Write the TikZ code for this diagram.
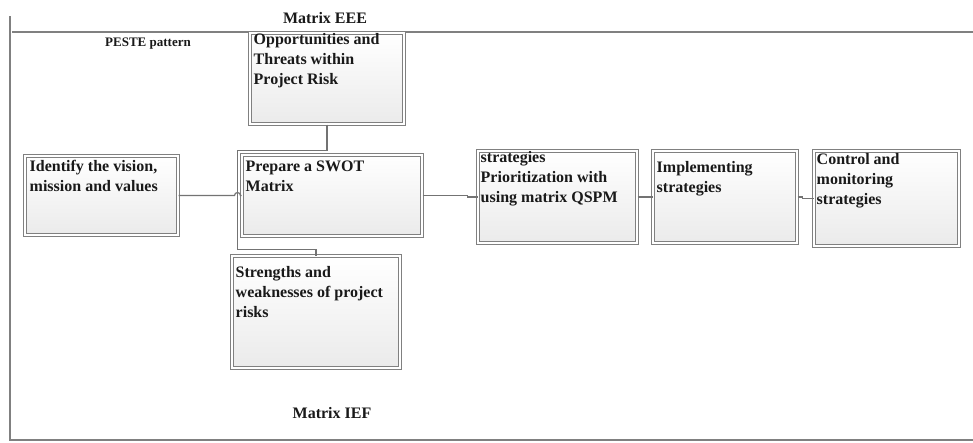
\documentclass[tikz,border=0pt]{standalone}
\usepackage{fontspec}
\setmainfont{Liberation Serif}
\usetikzlibrary{positioning,calc}

\tikzset{
  framebox/.style={draw=black!50,line width=1pt,double=white,double distance=1.4pt,
    top color=white,bottom color=black!8,inner sep=0pt},
  boxtext/.style={anchor=north west,inner sep=0pt,align=left,text=black!90,
    font=\fontsize{16}{20}\selectfont\bfseries},
  caption/.style={inner sep=0pt,text=black!90,font=\fontsize{16}{19}\selectfont\bfseries},
  conn/.style={draw=black!55,line width=1.2pt},
  border/.style={draw=black!50,line width=1.5pt}
}

\begin{document}
\begin{tikzpicture}[x=1pt,y=-1pt]
\useasboundingbox (0,0) rectangle (973,442);

\draw[border] (10,16) -- (10,440) -- (973,440);
\draw[border] (12,32) -- (973,32);

\node[caption] (eee) at (325,18) {Matrix EEE};
\node[caption,font=\fontsize{13}{15}\selectfont\bfseries] (peste) at (148,44) {PESTE pattern};
\node[caption] (ief) at (332,413) {Matrix IEF};

\node[framebox,minimum width=154pt,minimum height=91pt] (opp) at (327,78.5) {};
\node[framebox,minimum width=153pt,minimum height=79pt] (vision) at (101.5,195.5) {};
\node[framebox,minimum width=180pt,minimum height=81pt] (swot) at (332,195.5) {};
\node[framebox,minimum width=168pt,minimum height=112pt] (sw) at (316,312) {};
\node[framebox,minimum width=159pt,minimum height=92pt] (qspm) at (557.5,197) {};
\node[framebox,minimum width=144pt,minimum height=92pt] (impl) at (725,197) {};
\node[framebox,minimum width=145pt,minimum height=95pt] (ctrl) at (886.5,198.5) {};

\node[boxtext] (opptext) at ([shift={(4,1)}]opp.north west) {Opportunities and\\Threats within\\Project Risk};
\node[boxtext] (visiontext) at ([shift={(5,5)}]vision.north west) {Identify the vision,\\mission and values};
\node[boxtext] (swottext) at ([shift={(4,6)}]swot.north west) {Prepare a SWOT\\Matrix};
\node[boxtext] (swtext) at ([shift={(4,11)}]sw.north west) {Strengths and\\weaknesses of project\\risks};
\node[boxtext] (qspmtext) at ([shift={(3,1)}]qspm.north west) {strategies\\Prioritization with\\using matrix QSPM};
\node[boxtext] (impltext) at ([shift={(4,11)}]impl.north west) {Implementing\\strategies};
\node[boxtext] (ctrltext) at ([shift={(3,3)}]ctrl.north west) {Control and\\monitoring\\strategies};

\coordinate (bk1) at ([shift={(-4,-4)}]swot.north west);
\coordinate (bk2) at ([shift={(-4,13)}]swot.south west);
\coordinate (hop) at (bk1 |- vision.east);

\draw[conn] (opp.south) |- (bk1) -- (bk2) -| (sw.north);
\draw[conn] (vision.east) -- ([xshift=-3pt]hop) arc[start angle=180,end angle=0,radius=3pt] -- (swot.west);
\draw[conn] (swot.east) -- ++(45,0) |- (qspm.west);
\draw[conn] (qspm.east) -- (impl.west);
\draw[conn] (impl.east) -- ++(5,0) |- (ctrl.west);
\end{tikzpicture}
\end{document}
